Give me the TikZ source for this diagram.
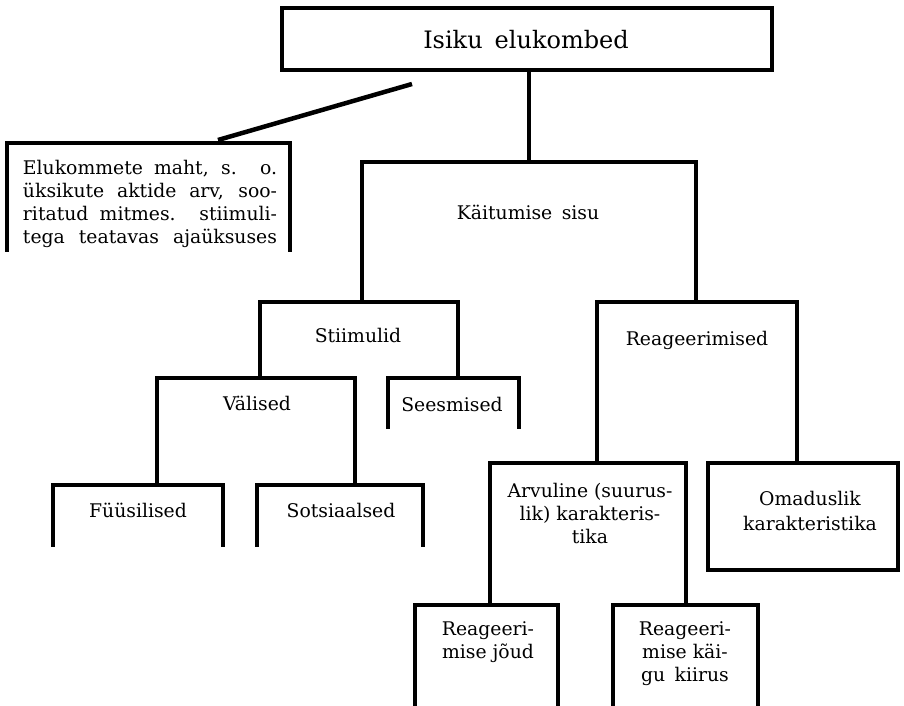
\documentclass[tikz,border=0pt]{standalone}
\usepackage{fontspec}
\setmainfont{DejaVu Serif}
\begin{document}
\begin{tikzpicture}[x=1pt,y=-1pt,
  ln/.style={line width=4.5pt, line join=miter, line cap=rect},
  frame/.style={draw=none, inner sep=0pt, outer sep=0pt, minimum width=#1},
  txt/.style={inner sep=0pt, align=center, font=\fontsize{18.8}{23}\selectfont},
  title/.style={inner sep=0pt, font=\fontsize{24}{27}\selectfont}]
\useasboundingbox[fill=white] (0,0) rectangle (904,705);
% box frames (centre, size)
\node[frame=490pt, minimum height=62pt]  (top)  at (527,39) {};
\node[frame=334pt, minimum height=140pt] (kait) at (529,232) {};
\node[frame=198pt, minimum height=76pt]  (stim) at (359,340) {};
\node[frame=198pt, minimum height=106pt] (val)  at (256,431) {};
\node[frame=131pt, minimum height=49pt]  (sees) at (453.5,402.5) {};
\node[frame=170pt, minimum height=60pt]  (fyys) at (138,515) {};
\node[frame=166pt, minimum height=60pt]  (sots) at (340,515) {};
\node[frame=200pt, minimum height=161pt] (reag) at (697,382.5) {};
\node[frame=196pt, minimum height=142pt] (arv)  at (588,534) {};
\node[frame=190pt, minimum height=107pt] (omad) at (803,516.5) {};
\node[frame=143pt, minimum height=100pt] (joud) at (486.5,655) {};
\node[frame=145pt, minimum height=100pt] (kiir) at (685.5,655) {};
\node[frame=283pt, minimum height=107pt] (eluk) at (148.5,196.5) {};
% texts
\node[title] (topT) at (526,40) {Isiku\enspace elukombed};
\node[txt] (kaitT) at (528,212) {Käitumise\enspace sisu};
\node[txt] (stimT) at (358,335) {Stiimulid};
\node[txt] (valT)  at (257,403) {Välised};
\node[txt] (seesT) at (452,404) {Seesmised};
\node[txt] (fyysT) at (138,510) {Füüsilised};
\node[txt] (sotsT) at (341,510) {Sotsiaalsed};
\node[txt] (reagT) at (697,340) {Reageerimised};
\node[txt] (arvT)  at (590,513) {Arvuline (suurus-\\lik) karakteris-\\tika};
\node[txt, font=\fontsize{18.8}{25}\selectfont] (omadT) at (810,511) {Omaduslik\\karakteristika};
\node[txt] (joudT) at (488,642) {Reageeri-\\mise jõud};
\node[txt] (kiirT) at (685,654) {Reageeri-\\mise käi-\\gu\enspace kiirus};
\node[txt, align=left] (elukT) at (150,204) {%
\makebox[254pt][s]{Elukommete maht, s. o.}\\
\makebox[254pt][s]{üksikute aktide arv, soo-}\\
\makebox[254pt][s]{ritatud mitmes. stiimuli-}\\
\makebox[254pt][s]{tega teatavas ajaüksuses}};
% closed boxes
\draw[ln] (top.north west) rectangle (top.south east);
\draw[ln] (omad.north west) rectangle (omad.south east);
% open-bottom brackets
\foreach \b in {kait,stim,val,sees,fyys,sots,reag,arv,joud,kiir,eluk}
  \draw[ln] (\b.south west) -- (\b.north west) -- (\b.north east) -- (\b.south east);
% connectors
\draw[ln] (top.south -| kait.north) -- (kait.north);
\coordinate (slA) at (218,140);
\coordinate (slB) at (412,84);
\draw[line width=4.5pt, line cap=butt] (slA) -- (slB);
\end{tikzpicture}
\end{document}
